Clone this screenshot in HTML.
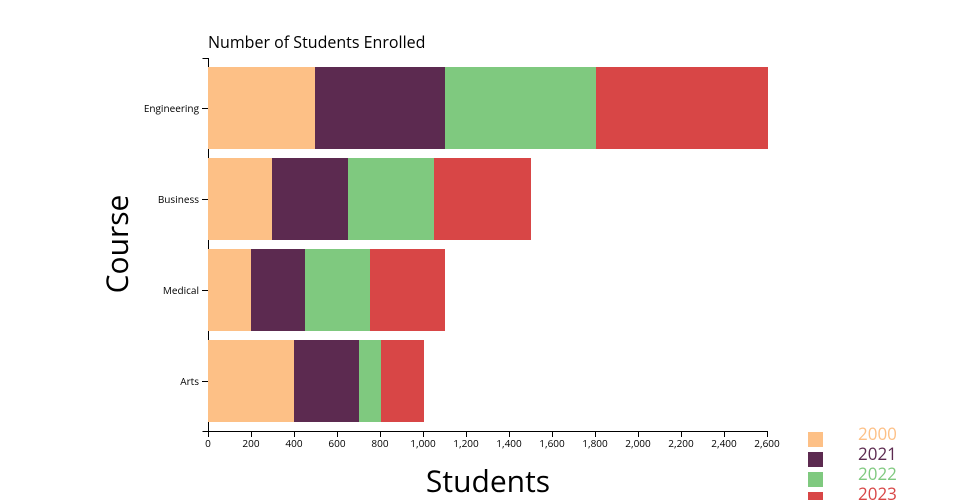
<!DOCTYPE html>
<html><head><meta charset="utf-8"><style>
html,body{margin:0;padding:0;background:#fff;}
svg{display:block;font-family:"Open Sans","Liberation Sans",sans-serif;}
</style></head><body>
<svg width="960" height="500" viewBox="0 0 960 500">
<text x="208" y="48" font-size="16" fill="#000">Number of Students Enrolled</text>
<g stroke="#000" fill="none" stroke-width="1">
<path d="M202.5,58.5H208.5V431.5"/>
<path d="M202.5,431.5H767.5"/>
<path d="M202,108.5H208M202,199.5H208M202,290.5H208M202,381.5H208"/>
</g>
<g stroke="#000" stroke-width="1">
<line x1="208.5" y1="431" x2="208.5" y2="437"/><line x1="251.5" y1="431" x2="251.5" y2="437"/><line x1="294.5" y1="431" x2="294.5" y2="437"/><line x1="337.5" y1="431" x2="337.5" y2="437"/><line x1="380.5" y1="431" x2="380.5" y2="437"/><line x1="423.5" y1="431" x2="423.5" y2="437"/><line x1="466.5" y1="431" x2="466.5" y2="437"/><line x1="509.5" y1="431" x2="509.5" y2="437"/><line x1="552.5" y1="431" x2="552.5" y2="437"/><line x1="595.5" y1="431" x2="595.5" y2="437"/><line x1="638.5" y1="431" x2="638.5" y2="437"/><line x1="681.5" y1="431" x2="681.5" y2="437"/><line x1="724.5" y1="431" x2="724.5" y2="437"/><line x1="767.5" y1="431" x2="767.5" y2="437"/>
</g>
<g font-size="10" text-anchor="middle" fill="#000">
<text x="208" y="447">0</text><text x="251" y="447">200</text><text x="294" y="447">400</text><text x="337" y="447">600</text><text x="380" y="447">800</text><text x="423" y="447">1,000</text><text x="466" y="447">1,200</text><text x="509" y="447">1,400</text><text x="552" y="447">1,600</text><text x="595" y="447">1,800</text><text x="638" y="447">2,000</text><text x="681" y="447">2,200</text><text x="724" y="447">2,400</text><text x="767" y="447">2,600</text>
</g>
<g font-size="10" text-anchor="end" fill="#000">
<text x="199" y="112">Engineering</text><text x="199" y="203">Business</text><text x="199" y="294">Medical</text><text x="199" y="385">Arts</text>
</g>
<g>
<rect x="208" y="67" width="107" height="82" fill="#fdc086"/><rect x="315" y="67" width="130" height="82" fill="#5c2a50"/><rect x="445" y="67" width="151" height="82" fill="#7fc97f"/><rect x="596" y="67" width="172" height="82" fill="#d84646"/>
<rect x="208" y="158" width="64" height="82" fill="#fdc086"/><rect x="272" y="158" width="76" height="82" fill="#5c2a50"/><rect x="348" y="158" width="86" height="82" fill="#7fc97f"/><rect x="434" y="158" width="97" height="82" fill="#d84646"/>
<rect x="208" y="249" width="43" height="82" fill="#fdc086"/><rect x="251" y="249" width="54" height="82" fill="#5c2a50"/><rect x="305" y="249" width="65" height="82" fill="#7fc97f"/><rect x="370" y="249" width="75" height="82" fill="#d84646"/>
<rect x="208" y="340" width="86" height="82" fill="#fdc086"/><rect x="294" y="340" width="65" height="82" fill="#5c2a50"/><rect x="359" y="340" width="22" height="82" fill="#7fc97f"/><rect x="381" y="340" width="43" height="82" fill="#d84646"/>
</g>
<text x="488" y="492" font-size="30" text-anchor="middle" fill="#000">Students</text>
<text transform="translate(128,244) rotate(-90)" font-size="30" text-anchor="middle" fill="#000">Course</text>
<g font-size="17">
<rect x="808" y="432" width="15" height="15" fill="#fdc086"/><text x="858" y="440" fill="#fdc086">2000</text>
<rect x="808" y="452" width="15" height="15" fill="#5c2a50"/><text x="858" y="460" fill="#5c2a50">2021</text>
<rect x="808" y="472" width="15" height="15" fill="#7fc97f"/><text x="858" y="480" fill="#7fc97f">2022</text>
<rect x="808" y="492" width="15" height="15" fill="#d84646"/><text x="858" y="500" fill="#d84646">2023</text>
</g>
</svg>
</body></html>
